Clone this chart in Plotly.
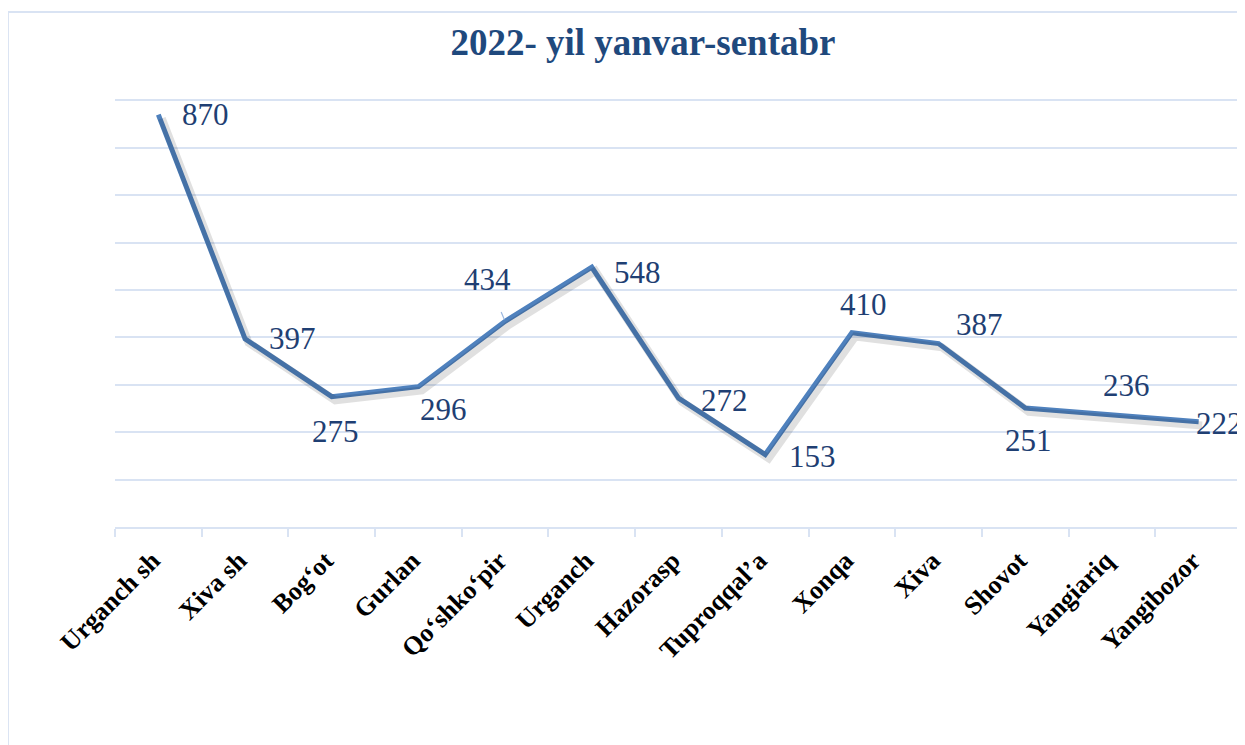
import plotly.graph_objects as go

# ─── Data ────────────────────────────────────────────────────────────────────
districts = ['Urganch sh', 'Xiva sh', 'Bog‘ot', 'Gurlan', 'Qo‘shko‘pir', 'Urganch',
             'Hazorasp', 'Tuproqqal’a', 'Xonqa', 'Xiva', 'Shovot', 'Yangiariq', 'Yangibozor']
values = [870, 397, 275, 296, 434, 548, 272, 153, 410, 387, 251, 236, 222]

# label offsets (px) relative to each point, like Excel's hand-placed labels
label_dx = [47, 47, 4, 25, -18, 46, 46, 47, 12, 41, 3, 15, 21]
label_dy = [0, 0, 35, 23, -42, 5, 2, 2, -28, -19, 32, -30, 2]

LINE = '#4F81BD'
LABEL = '#1F3F73'
GRID = '#D9E3F3'
FONT = '"Liberation Serif", "Times New Roman", serif'

X_RANGE = [-0.5, len(districts) - 0.5]
Y_RANGE = [0, 1000]

fig = go.Figure()

# soft drop shadow: same series on an overlaid axis pair nudged down-right
fig.add_trace(go.Scatter(
    x=districts, y=values, mode='lines',
    line=dict(color='rgba(0,0,0,0.12)', width=8),
    xaxis='x2', yaxis='y2', hoverinfo='skip',
))

fig.add_trace(go.Scatter(
    x=districts,
    y=values,
    mode='lines',
    line=dict(color=LINE, width=5),
    hoverinfo='x+y',
))

for d, v, dx, dy in zip(districts, values, label_dx, label_dy):
    leader = v in (870, 434)
    fig.add_annotation(
        x=d, y=v, text=str(v),
        showarrow=leader,
        ax=dx, ay=dy,
        arrowhead=0, arrowwidth=1.2, arrowcolor='#9DB9E0',
        standoff=2, startstandoff=25 if v == 870 else 15,
        xshift=0 if leader else dx, yshift=0 if leader else -dy,
        font=dict(family=FONT, size=31, color=LABEL),
    )

# outer chart border (only top/left edges are inside the page)
fig.add_shape(type='rect', xref='paper', yref='paper',
              x0=-0.095, x1=1.2, y0=-0.6, y1=1.0865,
              line=dict(color=GRID, width=2), layer='below')

# page body adds an 8px margin, so the figure is 8px smaller each way
fig.update_layout(
    width=1237, height=737,
    paper_bgcolor='white', plot_bgcolor='white',
    margin=dict(l=107, r=3, t=45, b=218, autoexpand=False),
    showlegend=False,
    font=dict(family=FONT, color='black'),
    title=dict(
        text='<b>2022- yil yanvar-sentabr</b>',
        font=dict(family=FONT, size=37, color='#1F497D'),
        x=0.5133, xanchor='center', y=0.954, yanchor='middle',
    ),
    xaxis=dict(
        type='category',
        range=X_RANGE,
        automargin=False,
        showgrid=False,
        showline=True, linecolor=GRID, linewidth=2,
        ticks='outside', tickson='boundaries', ticklen=8, tickcolor=GRID, tickwidth=2,
        tickangle=-45,
        tickfont=dict(family=FONT, size=26, color='black', weight='bold'),
        ticklabelstandoff=6,
        ticklabelshift=-6,
        zeroline=False,
    ),
    yaxis=dict(
        range=Y_RANGE, dtick=100,
        automargin=False,
        showgrid=True, gridcolor=GRID, gridwidth=2,
        showticklabels=False, zeroline=False, showline=False,
    ),
    xaxis2=dict(
        type='category', overlaying='x', range=[X_RANGE[0] - 0.04, X_RANGE[1] - 0.04],
        visible=False,
    ),
    yaxis2=dict(
        overlaying='y', range=[Y_RANGE[0] + 8, Y_RANGE[1] + 8], visible=False,
    ),
)

fig.write_html('out.html')
